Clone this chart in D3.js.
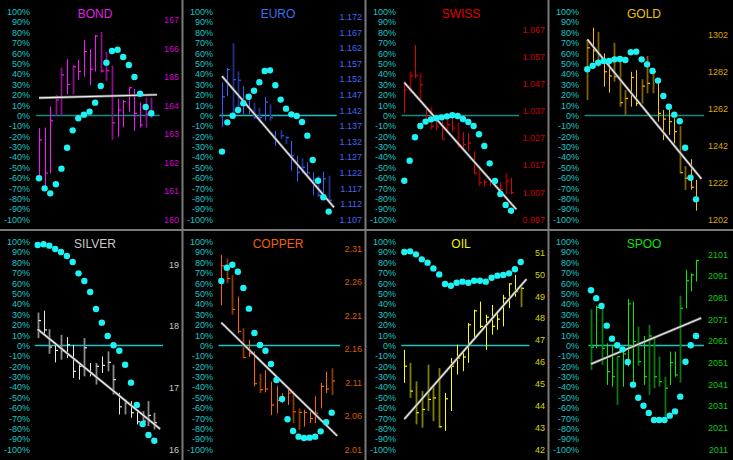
<!DOCTYPE html>
<html><head><meta charset="utf-8">
<script src="https://cdn.jsdelivr.net/npm/d3@7/dist/d3.min.js"></script>
<style>body{margin:0;background:#000}svg{display:block}</style>
</head><body>
<script>
// ---------- DATA ----------
const names = ["BOND","EURO","SWISS","GOLD","SILVER","COPPER","OIL","SPOO"];
const pctTicks = [100,90,80,70,60,50,40,30,20,10,0,-10,-20,-30,-40,-50,-60,-70,-80,-90,-100];

const bondTicks = [160,161,162,163,164,165,166,167];
const euroTicks = [1.107,1.112,1.117,1.122,1.127,1.132,1.137,1.142,1.147,1.152,1.157,1.162,1.167,1.172];
const swissTicks = [0.997,1.007,1.017,1.027,1.037,1.047,1.057,1.067];
const goldTicks = [1202,1222,1242,1262,1282,1302];
const silverTicks = [16,17,18,19];
const copperTicks = [2.01,2.06,2.11,2.16,2.21,2.26,2.31];
const oilTicks = [42,43,44,45,46,47,48,49,50,51];
const spooTicks = [2011,2021,2031,2041,2051,2061,2071,2081,2091,2101];

// price at the -100% line and at the +100% line
const priceRanges = [[160,167.29],[1.107,1.1736],[0.997,1.0735],[1202,1314.7],[16,19.37],[2.01,2.32],[42,51.49],[2011,2106.8]];

const bondHigh = [163.20,163.22,163.96,164.37,165.33,165.62,165.41,165.60,166.30,165.97,166.47,166.58,165.89,165.40,164.23,164.19,164.64,164.58,164.10,164.27,164.27];
const bondLow = [161.46,161.09,161.62,163.64,163.64,164.39,164.39,164.89,165.01,164.72,165.19,165.15,164.86,162.79,162.90,163.23,163.78,163.10,163.22,163.22,163.55];
const bondClose = [162.79,161.62,163.46,164.19,165.07,164.74,165.36,165.19,165.89,165.27,166.44,165.21,165.22,163.39,163.84,164.13,164.62,163.72,163.31,163.69,163.72];
const bondUp = [1,1,1,0,0,1,0,1,1,1,1,0,0,0,1,1,1,1,1,0,0];
const bondDots = [-60.5,-70.2,-75,-66.3,-51.2,-31,-14.3,-2.7,0.8,3.7,12.4,28.4,50.9,62.1,63.4,56.4,48.7,37.1,21,8.2,2.1];
const bondReg = [17,20];

const euroHigh = [1.1510,1.1555,1.1635,1.1545,1.1498,1.1470,1.1444,1.1428,1.1463,1.1439,1.1354,1.1356,1.1338,1.1322,1.1274,1.1266,1.1253,1.1221,1.1210,1.1223,1.1210];
const euroLow = [1.1366,1.1465,1.1407,1.1412,1.1407,1.1407,1.1391,1.1380,1.1386,1.1386,1.1306,1.1327,1.1311,1.1226,1.1191,1.1216,1.1205,1.1147,1.1141,1.1141,1.1120];
const euroClose = [1.1463,1.1550,1.1518,1.1516,1.1449,1.1465,1.1396,1.1396,1.1446,1.1396,1.1322,1.1338,1.1332,1.1274,1.1221,1.1237,1.1219,1.1196,1.1147,1.1200,1.1131];
const euroUp = [1,1,0,0,1,1,0,0,1,0,1,0,0,1,1,0,1,1,0,1,0];
const euroDots = [-34.8,-6.6,-0.2,5.3,11.7,18.1,23.9,32,42.9,43.5,29.1,15.3,6.6,1.1,-0.5,-6.3,-19.4,-42.9,-62.8,-78.8,-92.6];
const euroReg = [38,-88.5];

const swissHigh = [1.0478,1.0515,1.0612,1.0508,1.0380,1.0384,1.0331,1.0331,1.0362,1.0359,1.0325,1.0291,1.0288,1.0221,1.0166,1.0117,1.0119,1.0123,1.0107,1.0139,1.0123];
const swissLow = [1.0362,1.0435,1.0490,1.0411,1.0331,1.0300,1.0300,1.0264,1.0288,1.0294,1.0235,1.0233,1.0221,1.0135,1.0092,1.0092,1.0092,1.0086,1.0068,1.0062,1.0062];
const swissClose = [1.0447,1.0499,1.0499,1.0466,1.0337,1.0313,1.0313,1.0266,1.0319,1.0306,1.0239,1.0245,1.0251,1.0141,1.0105,1.0107,1.0111,1.0111,1.0080,1.0111,1.0068];
const swissUp = [1,0,1,0,1,0,1,1,0,1,0,1,1,1,0,1,1,1,1,0,1];
const swissDots = [-62.8,-43.5,-21,-10.1,-5.9,-3.7,-2.7,-1.8,-0.8,0.2,-0.5,-3.4,-6.3,-10.1,-18.1,-29.4,-46.1,-63.1,-75.6,-86.2,-91.7];
const swissReg = [31.6,-90.4];

const goldHigh = [1299.3,1306.0,1303.8,1292.1,1287.5,1297.8,1287.5,1272.2,1282.1,1283.0,1278.1,1290.6,1283.9,1276.7,1261.3,1261.7,1256.8,1252.6,1230.9,1234.6,1223.4];
const goldLow = [1266.7,1287.5,1284.8,1274.0,1270.7,1276.7,1263.1,1258.6,1263.1,1263.5,1264.9,1270.4,1270.4,1255.0,1245.0,1247.8,1243.2,1227.0,1217.9,1218.0,1206.7];
const goldClose = [1295.1,1293.5,1287.5,1282.1,1279.8,1279.4,1265.3,1267.6,1279.0,1264.9,1274.3,1275.8,1282.1,1259.5,1256.4,1255.0,1249.6,1227.3,1224.3,1219.4,1213.4];
const goldUp = [0,1,0,1,1,0,0,0,1,1,0,0,0,1,1,1,1,0,0,1,1];
const goldDots = [44.5,48,50.9,52.5,52.5,54.1,54.4,53.5,60.9,61.5,54.1,49.3,42.9,33.6,18.8,8.5,0.8,-5.6,-31,-59.9,-80.8];
const goldReg = [73.4,-61];

const silverHigh = [18.219,18.251,17.950,17.697,17.858,17.821,17.697,17.401,17.805,17.401,17.401,17.508,17.589,17.374,16.916,16.808,16.781,16.647,16.620,16.781,16.593];
const silverLow = [17.805,17.842,17.551,17.411,17.455,17.481,17.158,17.131,17.185,17.185,17.051,17.239,17.266,16.889,16.566,16.566,16.512,16.404,16.404,16.377,16.324];
const silverClose = [18.090,17.939,17.659,17.605,17.600,17.697,17.266,17.347,17.648,17.239,17.347,17.363,17.411,17.131,16.690,16.754,16.593,16.447,16.458,16.550,16.431];
const silverUp = [0,1,0,1,0,1,1,1,0,1,0,1,0,0,1,0,1,1,0,0,0];
const silverDots = [96.8,97.5,96.2,93,90.1,86.2,80.4,69.5,62.1,51.5,35.2,22,9.2,0.2,-5,-18.5,-35.8,-57.3,-75.6,-86.2,-91.7];
const silverReg = [15.6,-80.4];

const copperHigh = [2.300,2.295,2.270,2.238,2.191,2.173,2.156,2.123,2.128,2.111,2.104,2.094,2.101,2.094,2.071,2.069,2.066,2.089,2.109,2.126,2.131];
const copperLow = [2.225,2.258,2.211,2.183,2.146,2.148,2.104,2.094,2.095,2.061,2.064,2.079,2.076,2.049,2.039,2.044,2.049,2.049,2.071,2.094,2.091];
const copperClose = [2.284,2.265,2.219,2.186,2.147,2.153,2.108,2.099,2.100,2.076,2.083,2.086,2.094,2.066,2.065,2.065,2.056,2.064,2.104,2.100,2.112];
const copperUp = [1,0,0,1,0,1,1,0,1,1,1,1,1,0,0,1,1,1,1,1,0];
const copperDots = [62.1,74.9,77.8,71.1,55.4,35.5,12,0.5,-5,-17.8,-33.2,-51.5,-71.1,-82.4,-87.8,-89.1,-88.8,-87.8,-82.7,-74,-64.7];
const copperReg = [22,-87];

const oilHigh = [46.55,45.95,45.11,44.66,45.87,44.89,45.72,44.58,46.17,46.78,46.48,47.77,48.38,48.75,48.15,48.60,48.30,49.06,49.59,49.97,49.41];
const oilLow = [45.04,44.35,43.14,42.99,43.75,43.29,42.99,42.84,43.75,45.42,45.57,45.95,47.01,47.54,46.55,47.24,47.46,47.62,48.45,48.98,48.50];
const oilClose = [45.80,44.66,43.67,43.82,44.28,44.35,43.03,44.31,45.80,46.17,46.22,47.69,48.33,47.62,48.04,47.62,47.95,48.91,49.56,49.21,49.36];
const oilUp = [1,0,0,0,0,0,0,1,1,1,1,1,1,1,1,1,1,1,1,1,0];
const oilDots = [90.1,90.7,87.8,83,79.8,74.3,68.5,59.2,57.6,60.5,61.5,60.5,62.4,62.4,61.5,65.3,67.3,67.9,69.5,73.4,80.4];
const oilReg = [-71,64];

const spooHigh = [2075.6,2077.2,2077.6,2059.9,2059.2,2053.8,2056.8,2080.4,2079.2,2067.6,2063.3,2068.4,2063.0,2053.8,2044.5,2056.1,2056.1,2081.9,2093.8,2092.2,2098.4];
const spooLow = [2047.6,2057.6,2049.9,2040.7,2039.9,2031.5,2039.9,2049.2,2040.7,2049.5,2040.7,2036.1,2039.2,2039.9,2026.1,2040.7,2044.5,2041.8,2076.1,2083.8,2088.4];
const spooClose = [2058.1,2076.5,2057.6,2046.8,2044.5,2053.8,2055.0,2078.1,2060.7,2051.5,2044.5,2063.3,2044.5,2042.2,2039.2,2051.0,2045.3,2076.1,2088.8,2091.5,2098.1];
const spooUp = [0,1,0,1,1,0,1,1,1,0,1,0,0,0,0,1,1,0,1,1,1];
const spooDots = [53.2,45.5,38.1,19.1,6.6,0.2,-3.7,-15.9,-37.7,-50.3,-58,-65,-71.8,-71.8,-71.8,-67.6,-63.5,-49.3,-15.6,0.2,9.2];
const spooReg = [-17.8,26.5];

// ---------- STYLE / LAYOUT ----------
const panelData = [
  {ticks:bondTicks, fmt:d3.format("d"), hi:bondHigh, lo:bondLow, cl:bondClose, up:bondUp, dots:bondDots, reg:bondReg},
  {ticks:euroTicks, fmt:d3.format(".3f"), hi:euroHigh, lo:euroLow, cl:euroClose, up:euroUp, dots:euroDots, reg:euroReg},
  {ticks:swissTicks, fmt:d3.format(".3f"), hi:swissHigh, lo:swissLow, cl:swissClose, up:swissUp, dots:swissDots, reg:swissReg},
  {ticks:goldTicks, fmt:d3.format("d"), hi:goldHigh, lo:goldLow, cl:goldClose, up:goldUp, dots:goldDots, reg:goldReg},
  {ticks:silverTicks, fmt:d3.format("d"), hi:silverHigh, lo:silverLow, cl:silverClose, up:silverUp, dots:silverDots, reg:silverReg},
  {ticks:copperTicks, fmt:d3.format(".2f"), hi:copperHigh, lo:copperLow, cl:copperClose, up:copperUp, dots:copperDots, reg:copperReg},
  {ticks:oilTicks, fmt:d3.format("d"), hi:oilHigh, lo:oilLow, cl:oilClose, up:oilUp, dots:oilDots, reg:oilReg},
  {ticks:spooTicks, fmt:d3.format("d"), hi:spooHigh, lo:spooLow, cl:spooClose, up:spooUp, dots:spooDots, reg:spooReg}
];
const titleColors = ["#e020e0","#3f6cf0","#e00000","#f0c000","#c8c8c8","#f06000","#f0f000","#10e010"];
const labelColors = ["#d000d0","#4466f0","#c80000","#d8a800","#c8c8c8","#d85a00","#d8d800","#10c810"];
const brightColors = ["#ff10ff","#3a5cff","#e00000","#ffc000","#e8e8e8","#ff6400","#ffff00","#00ee00"];
const darkColors = ["#8a108a","#203090","#8a0000","#806000","#8a8a8a","#8a3a00","#808000","#0a7a0a"];
const zeroColors = ["#178a8a","#10c8c8","#178a8a","#178a8a","#10c8c8","#10c8c8","#10c8c8","#10c8c8"];
const xRanges = [[39,151.3],[39,145.7],[38.3,145],[38.3,147],[37.7,154.3],[38.3,148.7],[38.3,154.7],[42,147]];

const W = 733, H = 460, PW = 183, PH = 230;
const svg = d3.select("body").append("svg").attr("width", W).attr("height", H).style("background", "#000");

const yPct = d3.scaleLinear().domain([-100, 100]).range([219.3, 11.7]);

names.forEach((name, i) => {
  const col = i % 4, row = Math.floor(i / 4);
  const d = panelData[i];
  const g = svg.append("g").attr("transform", `translate(${col * PW},${row * PH})`);
  const x = d3.scaleLinear().domain([0, 20]).range(xRanges[i]);
  const yP = d3.scaleLinear().domain(priceRanges[i]).range([219.3, 11.7]);

  // left axis (percent)
  const la = g.append("g").attr("transform", "translate(30,0)")
    .call(d3.axisLeft(yPct).tickValues(pctTicks).tickSize(0).tickPadding(0).tickFormat(v => v + "%"));
  la.select(".domain").remove();
  la.selectAll("text").attr("fill", "#19c6c6").style("font", "9px Arial, 'Liberation Sans', sans-serif");

  // right axis (price)
  const ra = g.append("g").attr("transform", "translate(179,0)")
    .call(d3.axisLeft(yP).tickValues(d.ticks).tickSize(0).tickPadding(0).tickFormat(d.fmt));
  ra.select(".domain").remove();
  ra.selectAll("text").attr("fill", labelColors[i]).style("font", "9px Arial, 'Liberation Sans', sans-serif");

  // title
  g.append("text").attr("x", 95).attr("y", 18).attr("text-anchor", "middle")
    .attr("fill", titleColors[i]).style("font", "12px Arial, 'Liberation Sans', sans-serif").text(name);

  // zero line
  g.append("line").attr("x1", x(-0.5)).attr("x2", x(21.5)).attr("y1", yPct(0)).attr("y2", yPct(0))
    .attr("stroke", zeroColors[i]).attr("stroke-width", 1.5);

  // bars
  const idx = d3.range(d.hi.length);
  g.append("g").selectAll("line").data(idx).join("line")
    .attr("x1", k => Math.round(x(k)) + 0.5).attr("x2", k => Math.round(x(k)) + 0.5)
    .attr("y1", k => yP(d.hi[k])).attr("y2", k => yP(d.lo[k]))
    .attr("stroke", k => d.up[k] ? brightColors[i] : darkColors[i])
    .attr("stroke-width", k => d.up[k] ? 1 : 1.8);
  g.append("g").selectAll("line").data(idx).join("line")
    .attr("x1", k => Math.round(x(k)) + 0.5).attr("x2", k => Math.round(x(k)) + 3)
    .attr("y1", k => yP(d.cl[k])).attr("y2", k => yP(d.cl[k]))
    .attr("stroke", k => d.up[k] ? brightColors[i] : brightColors[i]).attr("stroke-width", 1.2);

  // regression line
  g.append("line").attr("x1", x(0)).attr("x2", x(21)).attr("y1", yPct(d.reg[0])).attr("y2", yPct(d.reg[1]))
    .attr("stroke", "#707070").attr("stroke-width", 2.6);
  g.append("line").attr("x1", x(0)).attr("x2", x(21)).attr("y1", yPct(d.reg[0])).attr("y2", yPct(d.reg[1]))
    .attr("stroke", "#f0f0f0").attr("stroke-width", 1.2);

  // dots
  g.append("g").selectAll("circle").data(d.dots).join("circle")
    .attr("cx", (v, k) => x(k)).attr("cy", v => yPct(v)).attr("r", 3.2).attr("fill", "#1ff2f2");
});

// panel separators
const sep = svg.append("g").attr("stroke", "#7a7a7a").attr("stroke-width", 2);
[1, 2, 3].forEach(c => sep.append("line").attr("x1", c * PW - 0.5).attr("x2", c * PW - 0.5).attr("y1", 0).attr("y2", H));
sep.append("line").attr("x1", 0).attr("x2", W).attr("y1", PH).attr("y2", PH);
</script>
</body></html>
